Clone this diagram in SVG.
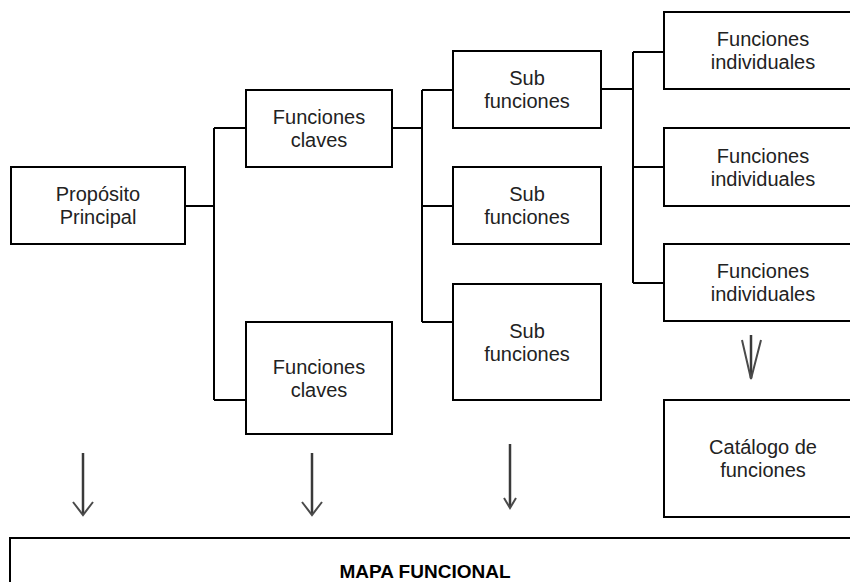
<svg xmlns="http://www.w3.org/2000/svg" width="850" height="582" viewBox="0 0 850 582">
  <style>
    .box { fill: #ffffff; stroke: #000000; stroke-width: 2; }
    .lbl { font-family: "Liberation Sans", Arial, sans-serif; font-size: 20px; fill: #222222; text-anchor: middle; }
    .title { font-family: "Liberation Sans", Arial, sans-serif; font-size: 19px; font-weight: bold; fill: #000000; text-anchor: middle; }
    .wire { fill: none; stroke: #000000; stroke-width: 2; }
    .arrow { fill: none; stroke: #3a3a3a; stroke-width: 2.5; stroke-linecap: butt; }
    .head { fill: none; stroke: #4a4a4a; stroke-width: 2; stroke-linejoin: miter; }
  </style>
  <rect width="850" height="582" fill="#ffffff"/>

  <!-- tree connectors -->
  <g id="connectors">
    <path class="wire" d="M185,206 H214 M214,128 V400 M214,128 H246 M214,400 H246"/>
    <path class="wire" d="M392,128 H422 M422,90 V322 M422,90 H453 M422,206 H453 M422,322 H453"/>
    <path class="wire" d="M601,89 H633 M633,52 V283 M633,52 H664 M633,167 H664 M633,283 H664"/>
    <!-- downward arrows -->
    <path class="arrow" d="M83,453 V514"/>
    <path class="head" d="M73,502 L83,515 L93,502"/>
    <path class="arrow" d="M312,453 V514"/>
    <path class="head" d="M302,502 L312,515 L322,502"/>
    <path class="arrow" d="M510,444 V507"/>
    <path class="head" d="M504,498 L510,508 L516,498"/>
    <path class="arrow" d="M751,335 V378"/>
    <path class="head" d="M742,340 L751,379 L761,340"/>
  </g>

  <g id="proposito">
    <rect class="box" x="11" y="167" width="174" height="77"/>
    <text class="lbl" x="98" y="201">Propósito</text>
    <text class="lbl" x="98" y="224">Principal</text>
  </g>

  <g id="claves1">
    <rect class="box" x="246" y="90" width="146" height="77"/>
    <text class="lbl" x="319" y="124">Funciones</text>
    <text class="lbl" x="319" y="147">claves</text>
  </g>

  <g id="claves2">
    <rect class="box" x="246" y="322" width="146" height="112"/>
    <text class="lbl" x="319" y="374">Funciones</text>
    <text class="lbl" x="319" y="397">claves</text>
  </g>

  <g id="sub1">
    <rect class="box" x="453" y="51" width="148" height="77"/>
    <text class="lbl" x="527" y="85">Sub</text>
    <text class="lbl" x="527" y="108">funciones</text>
  </g>

  <g id="sub2">
    <rect class="box" x="453" y="167" width="148" height="77"/>
    <text class="lbl" x="527" y="201">Sub</text>
    <text class="lbl" x="527" y="224">funciones</text>
  </g>

  <g id="sub3">
    <rect class="box" x="453" y="284" width="148" height="116"/>
    <text class="lbl" x="527" y="338">Sub</text>
    <text class="lbl" x="527" y="361">funciones</text>
  </g>

  <g id="individuales1">
    <rect class="box" x="664" y="12" width="210" height="77"/>
    <text class="lbl" x="763" y="46">Funciones</text>
    <text class="lbl" x="763" y="69">individuales</text>
  </g>

  <g id="individuales2">
    <rect class="box" x="664" y="128" width="210" height="78"/>
    <text class="lbl" x="763" y="163">Funciones</text>
    <text class="lbl" x="763" y="186">individuales</text>
  </g>

  <g id="individuales3">
    <rect class="box" x="664" y="244" width="210" height="77"/>
    <text class="lbl" x="763" y="278">Funciones</text>
    <text class="lbl" x="763" y="301">individuales</text>
  </g>

  <g id="catalogo">
    <rect class="box" x="664" y="400" width="210" height="117"/>
    <text class="lbl" x="763" y="454">Catálogo de</text>
    <text class="lbl" x="763" y="477">funciones</text>
  </g>

  <g id="mapa">
    <rect class="box" x="10" y="538" width="864" height="80"/>
    <text class="title" x="425" y="578">MAPA FUNCIONAL</text>
  </g>
</svg>
